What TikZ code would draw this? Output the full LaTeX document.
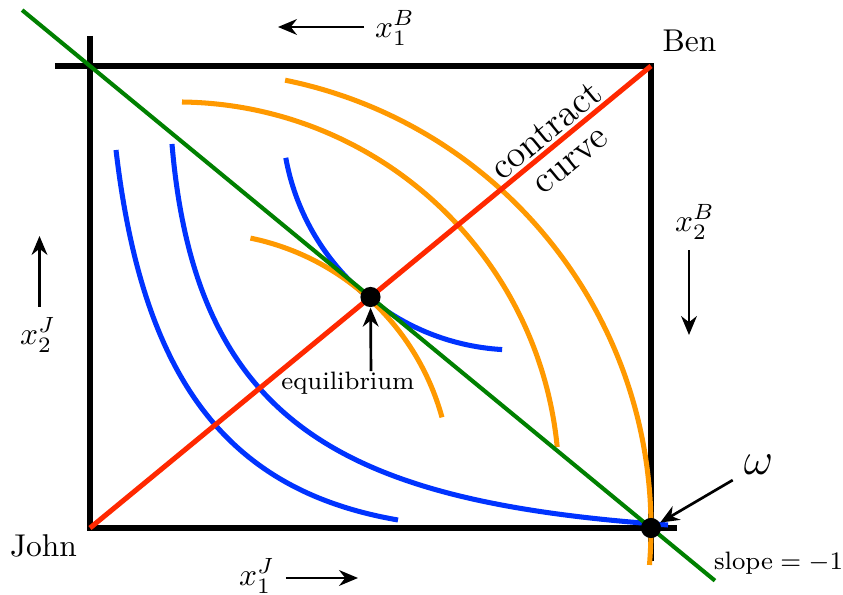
\documentclass[tikz,border=0pt]{standalone}
\usepackage{tikz}
\usetikzlibrary{arrows.meta,calc}
\usepackage{amsmath}
\definecolor{JohnBlue}{RGB}{0,51,255}
\definecolor{BenOrange}{RGB}{255,153,0}
\definecolor{ContractRed}{RGB}{255,40,0}
\definecolor{BudgetGreen}{RGB}{0,128,0}

\begin{document}
\begin{tikzpicture}[x=0.3175pt,y=0.3175pt,
  boxline/.style={line width=1.6pt},
  jcurve/.style={JohnBlue,line width=1.6pt},
  bcurve/.style={BenOrange,line width=1.6pt},
  arr/.style={-{Stealth[length=6pt,width=5pt]},line width=0.85pt},
  bigdot/.style={circle,fill=black,inner sep=0pt,minimum size=6.4pt},
]
\useasboundingbox (-90,-67) rectangle (753,528);
\coordinate (John) at (0,0);
\coordinate (Ben) at (561,462);
\coordinate (tl) at (0,462);
\coordinate (br) at (561,0);
\draw[boxline] (0,492) -- (John) -- (587,0);
\draw[boxline] (-35,462) -- (Ben) -- (561,-33);
% John
\draw[jcurve] (26,378) .. controls (52.8,148.4) and (137.4,37.4) .. (308,8);
\draw[jcurve] (82,384) .. controls (105.8,98.9) and (260.4,25.6) .. (578,3);
\draw[jcurve] (426,412) ++(190.3:74.3pt) arc[start angle=190.3,end angle=266.6,radius=74.3pt];
% Ben
\draw[bcurve] (110,44) ++(78.4:79.7pt) arc[start angle=78.4,end angle=15.4,radius=79.7pt];
\draw[bcurve] (87,44) ++(89.25:121.3pt) arc[start angle=89.25,end angle=5.56,radius=121.3pt];
\draw[bcurve] (104,0) ++(78.5:145.1pt) arc[start angle=78.5,end angle=-4.64,radius=145.1pt];
\draw[ContractRed,line width=1.6pt] (John) -- (Ben);
\draw[BudgetGreen,line width=1.3pt] ($(tl)!-0.121!(br)$) -- ($(br)!-0.114!(tl)$);
\node[bigdot] (eq) at (280.5,231) {};
\node[bigdot] (omega) at (br) {};
\node (johnlbl) at (-46.5,-18) {John};
\node (benlbl) at (599.5,487.5) {Ben};
\node[rotate=39.47,align=center,font=\fontsize{12}{12}\selectfont] (cclbl) at (468,383) {contract\\curve};
\node[font=\footnotesize,inner sep=0pt] (eqlbl) at (258,145) {equilibrium};
\draw[arr] ([xshift=7.3pt]eqlbl.north) -- (eq);
\node[font=\Large] (omlbl) at (668.5,63) {$\omega$};
\draw[arr] (omlbl) -- (omega);
\node[font=\footnotesize] (slopelbl) at (688.5,-35) {$\mbox{slope}=-1$};
\node (x1B) at (305,500) {$x_1^B$};
\coordinate (x1Bhead) at (188,501);
\draw[arr] (x1B.west |- x1Bhead) -- (x1Bhead);
\node (x1J) at (167,-48) {$x_1^J$};
\coordinate (x1Jhead) at (268,-50);
\draw[arr] (x1J.east |- x1Jhead) -- (x1Jhead);
\node (x2J) at (-52,193) {$x_2^J$};
\coordinate (x2Jhead) at (-50.5,292);
\draw[arr] (x2J.north -| x2Jhead) -- (x2Jhead);
\node (x2B) at (605,306) {$x_2^B$};
\coordinate (x2Bhead) at (599,193);
\draw[arr] (x2B.south -| x2Bhead) -- (x2Bhead);
\end{tikzpicture}
\end{document}
